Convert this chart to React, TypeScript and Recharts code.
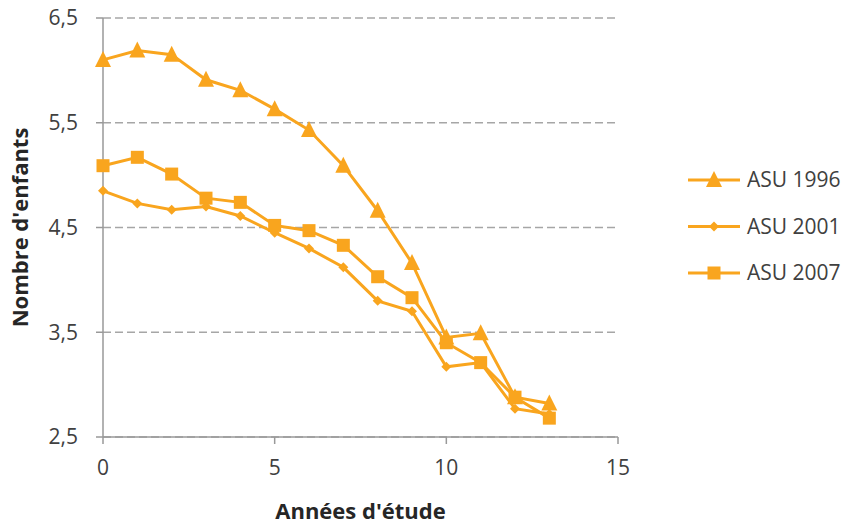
import React from "react";
import { LineChart, Line, XAxis, YAxis, CartesianGrid, Legend } from "recharts";

const years = [0, 1, 2, 3, 4, 5, 6, 7, 8, 9, 10, 11, 12, 13];
const asu1996 = [6.1, 6.19, 6.15, 5.91, 5.81, 5.63, 5.43, 5.09, 4.66, 4.16, 3.45, 3.49, 2.88, 2.82];
const asu2001 = [4.85, 4.73, 4.67, 4.7, 4.61, 4.45, 4.3, 4.12, 3.8, 3.7, 3.17, 3.21, 2.77, 2.72];
const asu2007 = [5.09, 5.17, 5.01, 4.78, 4.74, 4.52, 4.47, 4.33, 4.03, 3.83, 3.4, 3.21, 2.88, 2.68];
const xTicks = [0, 5, 10, 15];
const yTicks = [2.5, 3.5, 4.5, 5.5, 6.5];
const seriesNames = ["ASU 1996", "ASU 2001", "ASU 2007"];

const data = years.map((x, i) => ({
  x,
  s1996: asu1996[i],
  s2001: asu2001[i],
  s2007: asu2007[i],
}));

const ORANGE = "#F9A51E";
const FONT = "'Open Sans', sans-serif";
const TEXT = "#404040";

const Triangle = (props: any) => {
  const { cx, cy } = props;
  if (cx == null || cy == null) return null;
  const s = 8;
  return (
    <polygon
      points={`${cx},${cy - s - 1} ${cx - s},${cy + s - 1} ${cx + s},${cy + s - 1}`}
      fill={ORANGE}
    />
  );
};
const Diamond = (props: any) => {
  const { cx, cy } = props;
  if (cx == null || cy == null) return null;
  const s = 5;
  return <polygon points={`${cx},${cy - s} ${cx + s},${cy} ${cx},${cy + s} ${cx - s},${cy}`} fill={ORANGE} />;
};
const Square = (props: any) => {
  const { cx, cy } = props;
  if (cx == null || cy == null) return null;
  const s = 6.5;
  return <rect x={cx - s} y={cy - s} width={2 * s} height={2 * s} fill={ORANGE} />;
};

const markers = [
  (cx: number, cy: number) => <Triangle cx={cx} cy={cy} />,
  (cx: number, cy: number) => <Diamond cx={cx} cy={cy} />,
  (cx: number, cy: number) => <Square cx={cx} cy={cy} />,
];

const renderLegend = () => (
  <svg width={172} height={140} style={{ display: "block" }}>
    {seriesNames.map((name, i) => {
      const y = 20 + i * 46.5;
      return (
        <g key={name}>
          <line x1={8} x2={60} y1={y} y2={y} stroke={ORANGE} strokeWidth={3} />
          {markers[i](34, y)}
          <text x={67} y={y} dy="0.35em" fontSize={21} fontFamily={FONT} fill={TEXT}>
            {name}
          </text>
        </g>
      );
    })}
  </svg>
);

const fmt = (v: number) => String(v).replace(".", ",");

export default function App() {
  return (
    <div style={{ position: "absolute", left: 0, top: 0, width: 852, height: 525, background: "#fff" }}>
      <LineChart
        width={852}
        height={525}
        data={data}
        margin={{ top: 18, right: 234, bottom: 0, left: 0 }}
      >
        <CartesianGrid vertical={false} stroke="#A6A6A6" strokeWidth={1.5} strokeDasharray="8 4" />
        <XAxis
          dataKey="x"
          type="number"
          domain={[0, 15]}
          ticks={xTicks}
          height={88}
          stroke="#999"
          strokeWidth={1.5}
          tickSize={7}
          tickMargin={16}
          tick={{ fill: TEXT, fontSize: 21, fontFamily: FONT }}
          label={{
            value: "Années d'étude",
            position: "insideBottom",
            offset: 6,
            fill: "#262626",
            fontSize: 22,
            fontWeight: 700,
            fontFamily: FONT,
          }}
        />
        <YAxis
          type="number"
          domain={[2.5, 6.5]}
          ticks={yTicks}
          width={103}
          stroke="#999"
          strokeWidth={1.5}
          tickSize={7}
          tickMargin={18}
          tickFormatter={fmt}
          tick={{ fill: TEXT, fontSize: 21, fontFamily: FONT }}
          label={{
            value: "Nombre d'enfants",
            angle: -90,
            position: "insideLeft",
            offset: 20,
            style: { textAnchor: "middle" },
            fill: "#262626",
            fontSize: 22,
            fontWeight: 700,
            fontFamily: FONT,
          }}
        />
        <Legend
          layout="vertical"
          align="center"
          verticalAlign="middle"
          content={renderLegend}
          wrapperStyle={{ left: 680, top: 160, width: 172, height: 140 }}
        />
        <Line dataKey="s1996" name={seriesNames[0]} stroke={ORANGE} strokeWidth={3} dot={<Triangle />} isAnimationActive={false} />
        <Line dataKey="s2001" name={seriesNames[1]} stroke={ORANGE} strokeWidth={3} dot={<Diamond />} isAnimationActive={false} />
        <Line dataKey="s2007" name={seriesNames[2]} stroke={ORANGE} strokeWidth={3} dot={<Square />} isAnimationActive={false} />
      </LineChart>
    </div>
  );
}
